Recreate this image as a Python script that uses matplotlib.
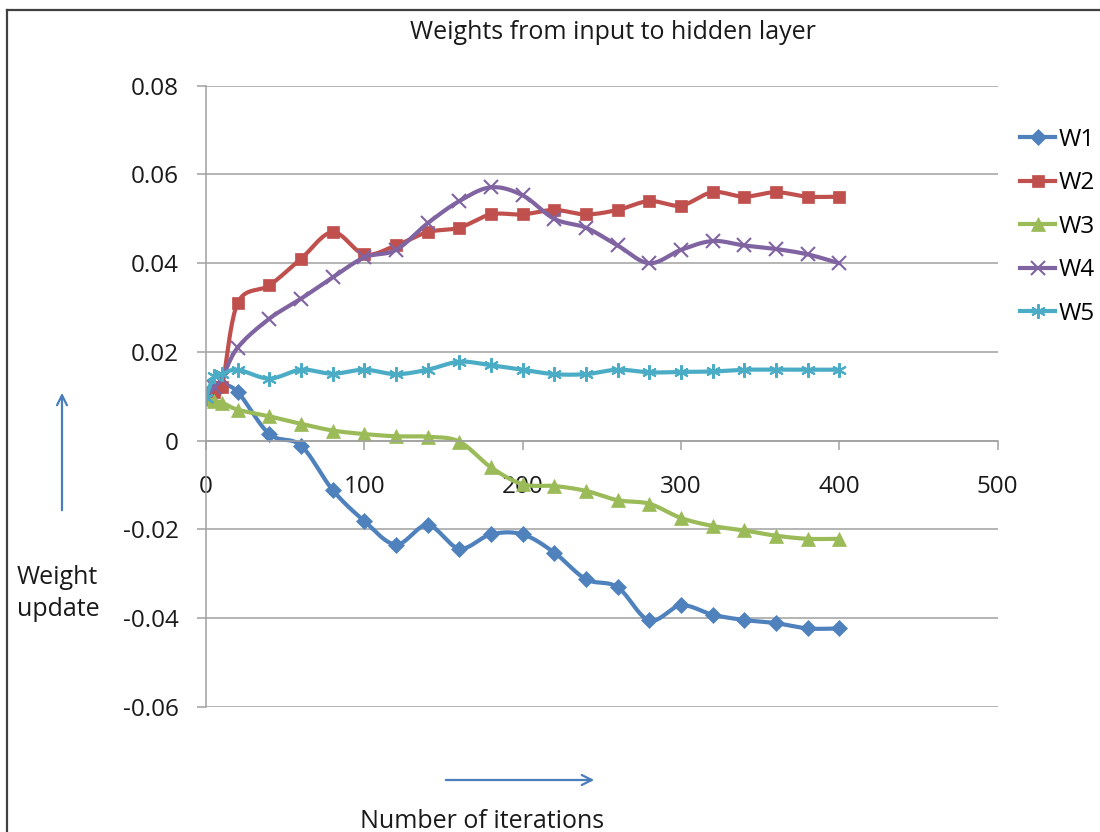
import numpy as np
import matplotlib
matplotlib.use("Agg")
import matplotlib.pyplot as plt
from matplotlib.lines import Line2D

plt.rcParams['font.family'] = ['Open Sans', 'DejaVu Sans']
plt.rcParams['axes.unicode_minus'] = False

# iterations and the five input->hidden weights
iters = [0, 5, 10, 20, 40, 60, 80, 100, 120, 140, 160, 180, 200, 220, 240, 260, 280, 300, 320, 340, 360, 380, 400]
w1 = [0.010, 0.012, 0.0125, 0.011, 0.0015, -0.0011, -0.0111, -0.0181, -0.0234, -0.019, -0.0243, -0.0211,
      -0.0211, -0.0252, -0.0312, -0.033, -0.0405, -0.0371, -0.0392, -0.0404, -0.0411, -0.0423, -0.0423]
w2 = [0.010, 0.011, 0.012, 0.031, 0.035, 0.041, 0.047, 0.042, 0.044, 0.047, 0.048, 0.051,
      0.051, 0.052, 0.051, 0.052, 0.054, 0.053, 0.056, 0.055, 0.056, 0.055, 0.055]
w3 = [0.0095, 0.009, 0.0086, 0.007, 0.0055, 0.0038, 0.0023, 0.0015, 0.001, 0.0009, -0.0002, -0.006,
      -0.0098, -0.0102, -0.0113, -0.0134, -0.0142, -0.0174, -0.0192, -0.0202, -0.0214, -0.0221, -0.0221]
w4 = [0.010, 0.012, 0.014, 0.021, 0.0275, 0.032, 0.0368, 0.0413, 0.043, 0.049, 0.054, 0.0571,
      0.0553, 0.050, 0.048, 0.044, 0.040, 0.043, 0.045, 0.044, 0.0432, 0.042, 0.040]
w5 = [0.0097, 0.0145, 0.015, 0.016, 0.014, 0.016, 0.0151, 0.016, 0.015, 0.016, 0.0178, 0.017,
      0.016, 0.015, 0.015, 0.016, 0.0154, 0.0155, 0.0156, 0.016, 0.016, 0.016, 0.016]

names = ["W1", "W2", "W3", "W4", "W5"]
xticks = [0, 100, 200, 300, 400, 500]
yticks = [-0.06, -0.04, -0.02, 0, 0.02, 0.04, 0.06, 0.08]
ylabels = ["-0.06", "-0.04", "-0.02", "0", "0.02", "0.04", "0.06", "0.08"]

colors = ["#4F81BD", "#C0504D", "#9BBB59", "#8064A2", "#4BACC6"]
markers = ["D", "s", "^", "x", (6, 2, 0)]
msizes = [8.2, 9, 9.5, 9.5, 10.5]
grey = "#a0a0a0"


def smooth(xs, ys, n=24):
    # bezier through the points, control points from neighbours (excel-like smoothing)
    p = np.column_stack([xs, ys]).astype(float)
    p = np.vstack([p[0], p, p[-1]])
    t = np.linspace(0, 1, n)[:, None]
    out = []
    for i in range(1, len(p) - 2):
        p0, p1, p2, p3 = p[i - 1], p[i], p[i + 1], p[i + 2]
        c1 = p1 + (p2 - p0) / 6
        c2 = p2 - (p3 - p1) / 6
        seg = (1 - t) ** 3 * p1 + 3 * (1 - t) ** 2 * t * c1 + 3 * (1 - t) * t ** 2 * c2 + t ** 3 * p2
        out.append(seg if i == 1 else seg[1:])
    out = np.vstack(out)
    return out[:, 0], out[:, 1]


fig = plt.figure(figsize=(11, 8.32), dpi=100)
ax = fig.add_axes([206 / 1100, 1 - 707 / 832, (997.5 - 206) / 1100, (707 - 85.7) / 832])

handles = []
for ys, name, c, m, ms in zip([w1, w2, w3, w4, w5], names, colors, markers, msizes):
    sx, sy = smooth(iters, ys)
    ax.plot(sx, sy, color=c, lw=3.0, solid_capstyle='round')
    mew = 1.5 if name in ("W4", "W5") else 0.5
    ax.plot(iters, ys, ls='none', marker=m, ms=ms, color=c, mec=c, mew=mew)
    handles.append(Line2D([], [], color=c, lw=3.0, marker=m, ms=ms, mec=c, mew=mew))

ax.set_xlim(0, 500)
ax.set_ylim(-0.06, 0.08)
ax.set_xticks(xticks)
ax.set_yticks(yticks)
ax.set_yticklabels(ylabels)
ax.grid(axis='y', color=grey, lw=1.1)
ax.set_axisbelow(True)
for s in ('top', 'right'):
    ax.spines[s].set_visible(False)
ax.spines['bottom'].set_position(('data', 0))
ax.spines['bottom'].set_color(grey)
ax.spines['left'].set_color(grey)
ax.spines['bottom'].set_linewidth(1.1)
ax.spines['left'].set_linewidth(1.1)
ax.tick_params(axis='both', direction='out', length=6.5, width=1.1, color=grey,
               labelsize=17.5, labelcolor='#1a1a1a')
ax.tick_params(axis='y', pad=13)
ax.tick_params(axis='x', pad=18)

ax.legend(handles, names, loc='upper left', bbox_to_anchor=(1020 / 1100, 1 - 128 / 832),
          bbox_transform=fig.transFigure, frameon=False, fontsize=17.5, handlelength=1.45,
          handletextpad=0.12, labelspacing=0.8, borderaxespad=0, borderpad=0)

fig.text(612.5 / 1100, 1 - 32.5 / 832, "Weights from input to hidden layer", ha='center', va='center',
         fontsize=18, color='#1a1a1a')
fig.text(17 / 1100, 1 - 577 / 832, "Weight", ha='left', va='center', fontsize=18, color='#1a1a1a')
fig.text(17 / 1100, 1 - 610 / 832, "update", ha='left', va='center', fontsize=18, color='#1a1a1a')
fig.text(482 / 1100, 4 / 832, "Number of iterations", ha='center', va='baseline', fontsize=18,
         color='#1a1a1a')

arrow_c = "#4a7ebb"
fig.add_artist(matplotlib.patches.FancyArrowPatch((443 / 1100, 1 - 780 / 832), (597 / 1100, 1 - 780 / 832),
               transform=fig.transFigure, arrowstyle='->', mutation_scale=18, color=arrow_c, lw=1.6))
fig.add_artist(matplotlib.patches.FancyArrowPatch((62 / 1100, 1 - 513 / 832), (62 / 1100, 1 - 390 / 832),
               transform=fig.transFigure, arrowstyle='->', mutation_scale=18, color=arrow_c, lw=1.6))

# chart area border (left and top edges visible)
fig.add_artist(Line2D([7 / 1100, 7 / 1100], [0, 1 - 10 / 832], transform=fig.transFigure, color='#404040', lw=1.6))
fig.add_artist(Line2D([7 / 1100, 1], [1 - 10 / 832, 1 - 10 / 832], transform=fig.transFigure, color='#404040', lw=1.6))

fig.savefig("out.png", dpi=100)
